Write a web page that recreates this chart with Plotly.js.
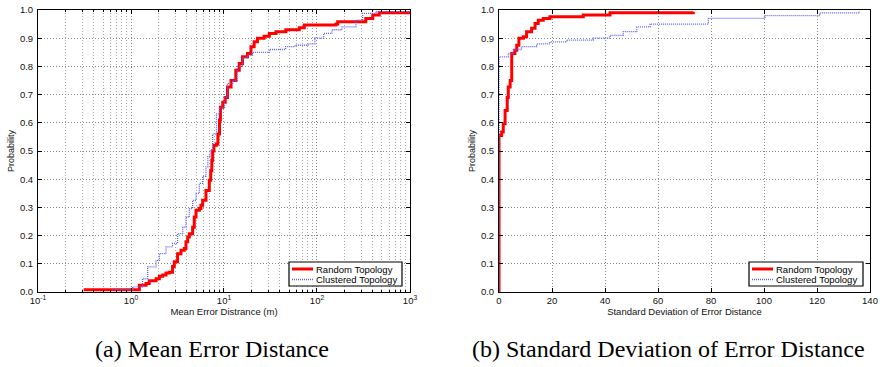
<!DOCTYPE html>
<html><head><meta charset="utf-8">
<script src="https://cdn.plot.ly/plotly-3.0.1.min.js"></script>
<style>body{margin:0;background:#fff}#c{width:883px;height:367px}</style>
</head><body><div id="c"></div>
<script>
// (a) Mean error distance CDF (log x)
const meanRandomX = [0.31,1.18,1.23,1.45,1.57,1.86,2.02,2.19,2.38,2.58,2.8,2.92,3.17,3.45,3.74,3.9,4.07,4.24,4.6,4.79,5.0,5.43,5.65,5.9,6.4,6.95,7.2,7.4,7.55,7.8,8.3,8.6,8.95,9.15,9.7,10.3,10.9,11.9,13.4,14.6,15.8,17.9,19.5,21.1,22.9,27,30.7,36.2,46.3,64.5,73,160,167,310,335,398,467,1000];
const meanRandomP = [0.008,0.008,0.024,0.03,0.04,0.047,0.056,0.06,0.067,0.07,0.09,0.107,0.136,0.148,0.154,0.178,0.195,0.207,0.23,0.266,0.29,0.296,0.308,0.325,0.36,0.396,0.43,0.467,0.5,0.52,0.525,0.56,0.61,0.655,0.673,0.69,0.727,0.75,0.786,0.81,0.834,0.846,0.87,0.887,0.9,0.907,0.917,0.923,0.93,0.937,0.947,0.95,0.958,0.958,0.97,0.982,0.99,0.994];
const meanClusterX = [0.63,1.04,1.33,1.51,1.86,2.02,2.38,2.8,3.17,3.6,3.9,4.24,4.6,5.0,5.43,5.9,6.4,6.7,7.1,7.55,8.3,8.95,10.1,10.9,12.4,13.9,15.8,17.9,20.3,30.7,46,58,80,95,118,145,186,262,310,430,1000];
const meanClusterP = [0.008,0.018,0.047,0.089,0.112,0.136,0.16,0.172,0.207,0.23,0.266,0.296,0.325,0.35,0.385,0.41,0.444,0.48,0.503,0.56,0.632,0.655,0.69,0.74,0.75,0.8,0.83,0.84,0.85,0.86,0.87,0.875,0.88,0.9,0.917,0.93,0.94,0.964,0.988,0.994,0.994];
// (b) Standard deviation of error distance CDF
const stdRandomX = [0,0,1.0,1.6,2.3,3.1,3.5,4.2,4.8,6.0,6.7,7.5,9.2,10.4,12.3,13.6,14.8,16.7,19.2,31.8,41.9,73.3];
const stdRandomP = [0,0.555,0.567,0.597,0.644,0.69,0.727,0.75,0.846,0.857,0.875,0.9,0.905,0.923,0.935,0.952,0.964,0.97,0.976,0.982,0.99,0.994];
const stdClusterX = [0,0,0.4,3.5,5.4,8.5,14.2,19.2,25.5,35.6,41.9,46.9,52,57,77.1,79,99.7,100.4,119.9,121,136];
const stdClusterP = [0,0.834,0.834,0.846,0.86,0.87,0.88,0.887,0.893,0.9,0.91,0.923,0.94,0.95,0.95,0.97,0.97,0.98,0.98,0.99,0.994];

const logTickVals = [0.1,1,10,100,1000];
const logTickText = ['10<sup>-1</sup>','10<sup>0</sup>','10<sup>1</sup>','10<sup>2</sup>','10<sup>3</sup>'];
const yTicks = [0,0.1,0.2,0.3,0.4,0.5,0.6,0.7,0.8,0.9,1.0];
const linTicks = [0,20,40,60,80,100,120,140];
const labels = ['Random Topology','Clustered Topology'];
const captions = ['(a) Mean Error Distance','(b) Standard Deviation of Error Distance'];

const minorLog = [];
for (let k=-1;k<3;k++) for (let m=2;m<10;m++) minorLog.push(m*Math.pow(10,k));

const RED='#ff0000', BLUE='rgb(95,95,255)';
const redLine={color:RED,width:3,shape:'hv'};
const blueLine={color:BLUE,width:1.3,dash:'1px,1px',shape:'hv'};
const traces = [
  {x:meanRandomX,y:meanRandomP,xaxis:'x',yaxis:'y',mode:'lines',line:redLine,name:labels[0]},
  {x:meanClusterX,y:meanClusterP,xaxis:'x',yaxis:'y',mode:'lines',line:blueLine,name:labels[1]},
  {x:stdRandomX,y:stdRandomP,xaxis:'x2',yaxis:'y2',mode:'lines',line:redLine,name:labels[0]},
  {x:stdClusterX,y:stdClusterP,xaxis:'x2',yaxis:'y2',mode:'lines',line:blueLine,name:labels[1]}
];
const FONT='Liberation Sans, Arial, sans-serif';
const axCommon = {showline:true,linecolor:'#000',linewidth:1,mirror:'ticks',ticks:'inside',ticklen:4,tickcolor:'#000',
  showgrid:true,gridcolor:'#8a8a8a',griddash:'1px,2px',gridwidth:1,zeroline:false,tickfont:{family:FONT,size:9.5,color:'#111'}};
const yAx = Object.assign({},axCommon,{range:[0,1],tickvals:yTicks,tickformat:'.1f',ticklabelstandoff:2,
  title:{text:'Probability',font:{family:FONT,size:9,color:'#111'},standoff:3}});

// pixel -> paper helpers for legend boxes and captions
const PL=38, PW=832, PB=292, PH=282;
const px = v => (v-PL)/PW, py = v => (PB-v)/PH;
function legendItems(x0,x1){
  return {
    shapes:[
      {type:'rect',xref:'paper',yref:'paper',x0:px(x0),x1:px(x1),y0:py(286),y1:py(262),line:{color:'#000',width:1.2},fillcolor:'#fff',layer:'above'},
      {type:'line',xref:'paper',yref:'paper',x0:px(x0+3),x1:px(x0+24),y0:py(269),y1:py(269),line:{color:RED,width:3},layer:'above'},
      {type:'line',xref:'paper',yref:'paper',x0:px(x0+3),x1:px(x0+24),y0:py(279.5),y1:py(279.5),line:{color:BLUE,width:1.3,dash:'1px,1px'},layer:'above'}
    ],
    annotations:[
      {text:labels[0],xref:'paper',yref:'paper',x:px(x0+25),y:py(269),xanchor:'left',yanchor:'middle',showarrow:false,font:{family:FONT,size:9.5,color:'#000'}},
      {text:labels[1],xref:'paper',yref:'paper',x:px(x0+25),y:py(279.5),xanchor:'left',yanchor:'middle',showarrow:false,font:{family:FONT,size:9.5,color:'#000'}}
    ]
  };
}
const legA = legendItems(289,402), legB = legendItems(749,863);
const CAPFONT={family:'Liberation Serif, serif',size:24,color:'#000'};
const layout = {
  width:883,height:367,paper_bgcolor:'#fff',plot_bgcolor:'#fff',showlegend:false,
  margin:{l:PL,r:13,t:10,b:75},
  xaxis:Object.assign({},axCommon,{domain:[0,0.4471],type:'log',range:[-1,3],tickvals:logTickVals,ticktext:logTickText,
    minor:{tickvals:minorLog,showgrid:true,gridcolor:'#a8a8a8',griddash:'1px,2px',gridwidth:1,ticks:'inside',ticklen:2,tickcolor:'#000'},
    title:{text:'Mean Error Distrance (m)',font:{family:FONT,size:9.5,color:'#111'},standoff:1}}),
  yaxis:Object.assign({},yAx,{anchor:'x'}),
  xaxis2:Object.assign({},axCommon,{domain:[0.5541,1],range:[0,140],tickvals:linTicks,anchor:'y2',
    title:{text:'Standard Deviation of Error Distance',font:{family:FONT,size:9.5,color:'#111'},standoff:1}}),
  yaxis2:Object.assign({},yAx,{anchor:'x2'}),
  shapes:[...legA.shapes,...legB.shapes],
  annotations:[...legA.annotations,...legB.annotations,
    {text:captions[0],xref:'paper',yref:'paper',x:px(93),y:py(349),xanchor:'left',yanchor:'middle',showarrow:false,font:CAPFONT},
    {text:captions[1],xref:'paper',yref:'paper',x:px(470),y:py(349),xanchor:'left',yanchor:'middle',showarrow:false,font:CAPFONT}
  ]
};
Plotly.newPlot('c',traces,layout,{displayModeBar:false,staticPlot:true});
</script></body></html>
